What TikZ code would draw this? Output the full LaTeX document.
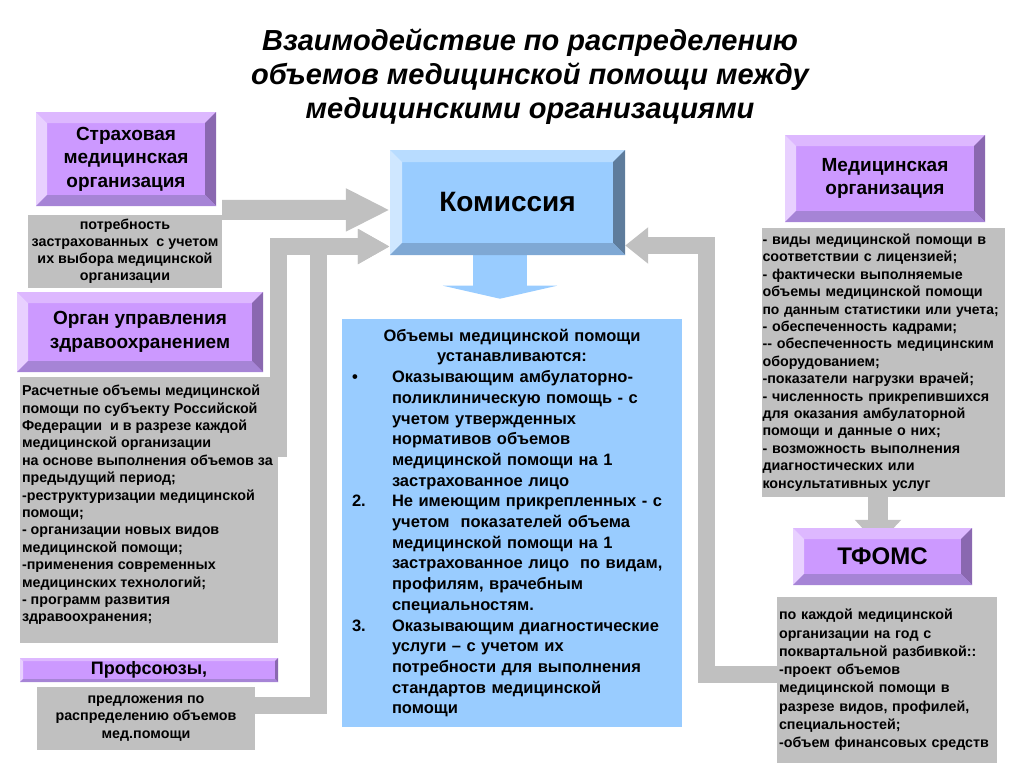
\documentclass[tikz,border=0pt]{standalone}
\usepackage{fontspec}
\setmainfont{Liberation Sans}
\usetikzlibrary{arrows.meta,backgrounds}

\definecolor{lilac}{HTML}{CC99FF}
\definecolor{lilacTop}{HTML}{DDB8FF}
\definecolor{lilacLeft}{HTML}{E8D0FF}
\definecolor{lilacRight}{HTML}{8A68B0}
\definecolor{lilacBottom}{HTML}{A684D6}
\definecolor{sky}{HTML}{99CCFF}
\definecolor{skyTop}{HTML}{B8DCFF}
\definecolor{skyLeft}{HTML}{CFE7FF}
\definecolor{skyRight}{HTML}{5E7C9C}
\definecolor{skyBottom}{HTML}{7FA8D4}
\definecolor{pipegray}{HTML}{C0C0C0}

% bevelled rim of a box (#1 = rim width, #2 = colour family)
\newcommand{\bevelsides}[2]{%
  \def\pp{path picture bounding box}%
  \fill[#2Top] (\pp.north west) -- (\pp.north east)
    -- ([xshift=-#1,yshift=-#1]\pp.north east) -- ([xshift=#1,yshift=-#1]\pp.north west) -- cycle;
  \fill[#2Left] (\pp.north west) -- ([xshift=#1,yshift=-#1]\pp.north west)
    -- ([xshift=#1,yshift=#1]\pp.south west) -- (\pp.south west) -- cycle;
  \fill[#2Right] (\pp.north east) -- ([xshift=-#1,yshift=-#1]\pp.north east)
    -- ([xshift=-#1,yshift=#1]\pp.south east) -- (\pp.south east) -- cycle;
  \fill[#2Bottom] (\pp.south west) -- ([xshift=#1,yshift=#1]\pp.south west)
    -- ([xshift=-#1,yshift=#1]\pp.south east) -- (\pp.south east) -- cycle;
}
% one numbered point in the centre box
\newcommand{\volitem}[2]{\par\noindent\hangindent=40pt\hangafter=1\makebox[40pt][l]{#1}{\let\\\newline#2}\par}

\begin{document}
\begin{tikzpicture}[x=1pt,y=-1pt,
  head/.style={fill=lilac, path picture={\bevelsides{#1}{lilac}}, align=center, inner sep=0pt,
    font=\fontsize{19}{23.5}\selectfont\bfseries},
  head/.default=11pt,
  note/.style={fill=pipegray, inner sep=3pt, font=\fontsize{14.3}{17.4}\selectfont\bfseries},
  pipe/.style={draw=pipegray, line width=17pt}]
\useasboundingbox (0,0) rectangle (1024,768);

% Title
\node[align=center, font=\fontsize{29}{34}\selectfont\bfseries\itshape] (title) at (530,77)
  {Взаимодействие по распределению\\объемов медицинской помощи между\\медицинскими организациями};

% Left: participants
\node[head, minimum width=180, minimum height=94] (strah) at (126,159) {Страховая\\медицинская\\организация};
\node[note, align=center, minimum width=194, minimum height=73, font=\fontsize{14.3}{17}\selectfont\bfseries] (strahT) at (125,251.5)
  {потребность\\застрахованных~ с учетом\\их выбора медицинской\\организации};

\node[head, minimum width=246, minimum height=80] (organ) at (140,332) {Орган управления\\здравоохранением};
\node[note, minimum width=258, minimum height=266, inner sep=0pt] (organT) at (149,510)
  {\parbox[c][266pt][t]{258pt}{\raggedright\leftskip=2pt\vspace{8pt}Расчетные объемы медицинской\\помощи по субъекту Российской\\Федерации~ и в разрезе каждой\\медицинской организации\\на основе выполнения объемов за\\предыдущий период;\\-реструктуризации медицинской\\помощи;\\- организации новых видов\\медицинской помощи;\\-применения современных\\медицинских технологий;\\- программ развития\\здравоохранения;}};

\node[head=3pt, minimum width=258, minimum height=24, font=\fontsize{18}{20}\selectfont\bfseries] (prof) at (149,670) {Профсоюзы,};
\node[note, align=center, minimum width=218, minimum height=63] (profT) at (146,718.5)
  {предложения по\\распределению объемов\\мед.помощи};

% Centre: commission and its decision
\node[fill=sky, path picture={\bevelsides{12pt}{sky}}, minimum width=235, minimum height=105,
  font=\fontsize{28}{32}\selectfont\bfseries] (kom) at (507.5,202.5) {Комиссия};
\node[fill=sky, text width=320, inner sep=10pt, minimum height=400,
  font=\fontsize{16.5}{20.7}\selectfont\bfseries] (vol) at (512,523)
  {{\centering Объемы медицинской помощи\\устанавливаются:\par}\raggedright
   \volitem{•}{Оказывающим амбулаторно-\\поликлиническую помощь - с\\учетом утвержденных\\нормативов объемов\\медицинской помощи на 1\\застрахованное лицо}
   \volitem{2.}{Не имеющим прикрепленных - с\\учетом~ показателей объема\\медицинской помощи на 1\\застрахованное лицо~ по видам,\\профилям, врачебным\\специальностям.}
   \volitem{3.}{Оказывающим диагностические\\услуги – с учетом их\\потребности для выполнения\\стандартов медицинской\\помощи}};

% Right: medical organisation and TFOMS
\node[head, minimum width=200, minimum height=87] (med) at (885,178.5) {Медицинская\\ организация};
\node[note, align=left, text width=242, inner sep=0.5pt, minimum height=269] (medT) at (883.5,362.5)
  {- виды медицинской помощи в\\соответствии с лицензией;\\- фактически выполняемые\\объемы медицинской помощи\\{\fontsize{13.9}{17.4}\selectfont по данным статистики или учета;}\\- обеспеченность кадрами;\\-{}- обеспеченность медицинским\\оборудованием;\\-показатели нагрузки врачей;\\- численность прикрепившихся\\для оказания амбулаторной\\помощи и данные о них;\\- возможность выполнения\\диагностических или\\консультативных услуг};

\node[head, minimum width=179, minimum height=57, font=\fontsize{24}{28}\selectfont\bfseries] (tfoms) at (882.5,556.5) {ТФОМС};
\node[note, align=left, text width=216, inner sep=2pt, minimum height=166, font=\fontsize{14.3}{18.3}\selectfont\bfseries] (tfomsT) at (887,680)
  {по каждой медицинской\\организации на год с\\поквартальной разбивкой::\\-проект объемов\\медицинской помощи в\\разрезе видов, профилей,\\специальностей;\\-объем финансовых средств};

% Arrows behind the boxes
\begin{scope}[on background layer]
\draw[pipe, line width=20pt, -{Triangle[length=44pt,width=40pt]}] ([yshift=5pt]strahT.north east) -- ([yshift=-7.5pt]kom.west);
\draw[pipe, -{Triangle[length=32pt,width=33pt]}] (organT.north east) ++(0.5,80) |- ([yshift=-44pt]kom.west);
\draw[pipe, -{Triangle[length=32pt,width=33pt]}] ([yshift=13.5pt]profT.east) -| ([xshift=-71.5pt,yshift=-44pt]kom.west) -- ([yshift=-44pt]kom.west);
\draw[pipe, -{Triangle[length=23pt,width=35pt]}] ([yshift=6pt]tfomsT.west) -| ([xshift=81pt,yshift=-43pt]kom.east) -- ([yshift=-43pt]kom.east);
\draw[pipe, line width=20pt, -{Triangle[length=25pt,width=45pt]}] ([xshift=-5.5pt]medT.south) -- ([xshift=-4.5pt,yshift=-17pt]tfoms.north);
\draw[draw=sky, line width=54pt, -{Triangle[length=13pt,width=114pt]}] ([xshift=-7.5pt]kom.south) -- ([xshift=-12pt,yshift=20pt]vol.north);
\end{scope}
\end{tikzpicture}
\end{document}
